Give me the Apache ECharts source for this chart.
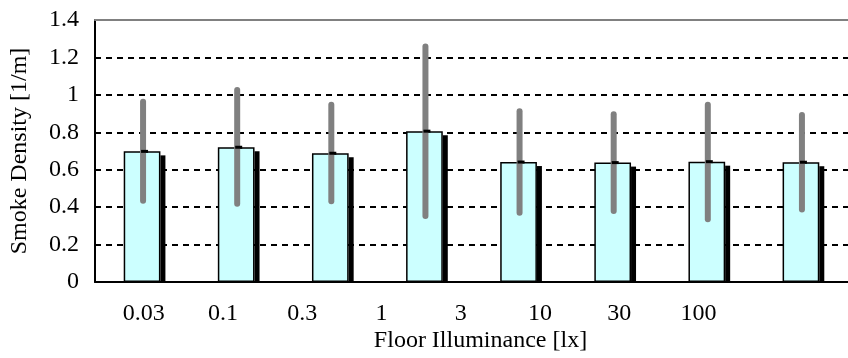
<!DOCTYPE html>
<html>
<head>
<meta charset="utf-8">
<script src="https://cdn.jsdelivr.net/npm/echarts@6/dist/echarts.min.js"></script>
<style>
  html, body { margin: 0; padding: 0; background: #fff; }
  #chart { width: 848px; height: 358px; }
</style>
</head>
<body>
<div id="chart"></div>
<script>
// 数据
var categories = ['0.03', '0.1', '0.3', '1', '3', '10', '30', '100'];
var tickLabels = ['0.03', '0.1', '0.3', '1', '3', '10', '30', '100'];
var meanValues = [0.698, 0.720, 0.688, 0.806, 0.641, 0.638, 0.643, 0.640];
var errLow = [0.434, 0.418, 0.432, 0.353, 0.370, 0.379, 0.335, 0.388];
var errHigh = [0.963, 1.026, 0.947, 1.259, 0.912, 0.896, 0.947, 0.893];

var FONT = '"Liberation Serif", "DejaVu Serif", serif';
var FS = 24;
var BAR_FRAC = 0.39;

var chart = echarts.init(document.getElementById('chart'), null, { renderer: 'canvas' });

var shadowData = meanValues.map(function (v, i) { return [i, v]; });
var errData = meanValues.map(function (v, i) { return [i, errLow[i], errHigh[i], v]; });

chart.setOption({
  backgroundColor: '#fff',
  animation: false,
  grid: [
    { left: 95, right: -7, top: 20, bottom: 73 },
    // 刻度文字单独一个grid
    { left: 104, right: 110, top: 20, bottom: 73 }
  ],
  xAxis: [
    {
      type: 'category',
      gridIndex: 0,
      data: categories,
      boundaryGap: true,
      name: 'Floor Illuminance [lx]',
      nameLocation: 'middle',
      nameGap: 47,
      nameTextStyle: { fontFamily: FONT, fontSize: FS, color: '#000', padding: [0, 0, 0, 18] },
      axisLine: { lineStyle: { color: '#000', width: 2 } },
      axisTick: { inside: true, length: 6, lineStyle: { color: '#555', width: 1.5 } },
      axisLabel: { show: false },
      splitLine: { show: false }
    },
    {
      type: 'category',
      gridIndex: 1,
      data: tickLabels,
      axisLine: { show: false },
      axisTick: { show: false },
      axisLabel: { fontFamily: FONT, fontSize: FS, color: '#000', margin: 17, interval: 0 }
    },
    {
      type: 'category',
      gridIndex: 0,
      position: 'top',
      data: categories,
      axisLine: { lineStyle: { color: '#808080', width: 2 } },
      axisTick: { show: false },
      axisLabel: { show: false }
    }
  ],
  yAxis: [
    {
      type: 'value',
      gridIndex: 0,
      min: 0,
      max: 1.4,
      interval: 0.2,
      name: 'Smoke Density [1/m]',
      nameLocation: 'middle',
      nameGap: 63,
      nameTextStyle: { fontFamily: FONT, fontSize: FS, color: '#000' },
      axisLine: { show: true, lineStyle: { color: '#000', width: 2 } },
      axisTick: { show: false },
      axisLabel: { fontFamily: FONT, fontSize: FS, color: '#000', margin: 16 },
      splitLine: { lineStyle: { color: '#000', width: 2, type: [6, 5] } }
    },
    {
      type: 'value',
      gridIndex: 1,
      show: false
    }
  ],
  series: [
    {
      // 阴影
      type: 'custom',
      xAxisIndex: 0,
      yAxisIndex: 0,
      z: 1,
      data: shadowData,
      renderItem: function (params, api) {
        var top = api.coord([api.value(0), api.value(1)]);
        var base = api.coord([api.value(0), 0]);
        var bw = api.size([1, 0])[0] * BAR_FRAC;
        return {
          type: 'rect',
          shape: { x: top[0] + bw / 2, y: top[1] + 4, width: 5, height: base[1] - top[1] - 4 },
          style: { fill: '#000' }
        };
      }
    },
    {
      type: 'bar',
      xAxisIndex: 0,
      yAxisIndex: 0,
      z: 2,
      barWidth: '39%',
      data: meanValues,
      itemStyle: { color: '#ccffff', borderColor: '#000', borderWidth: 1.5 }
    },
    {
      // 误差线
      type: 'custom',
      xAxisIndex: 0,
      yAxisIndex: 0,
      z: 3,
      data: errData,
      renderItem: function (params, api) {
        var lo = api.coord([api.value(0), api.value(1)]);
        var hi = api.coord([api.value(0), api.value(2)]);
        var mid = api.coord([api.value(0), api.value(3)]);
        var x = lo[0] + 1;
        return {
          type: 'group',
          children: [
            {
              type: 'line',
              shape: { x1: x, y1: lo[1], x2: x, y2: hi[1] },
              style: { stroke: '#808080', lineWidth: 6, lineCap: 'round' }
            },
            {
              type: 'rect',
              shape: { x: x - 2, y: mid[1] - 1.5, width: 7, height: 3 },
              style: { fill: '#000' }
            }
          ]
        };
      }
    }
  ]
});
</script>
</body>
</html>
